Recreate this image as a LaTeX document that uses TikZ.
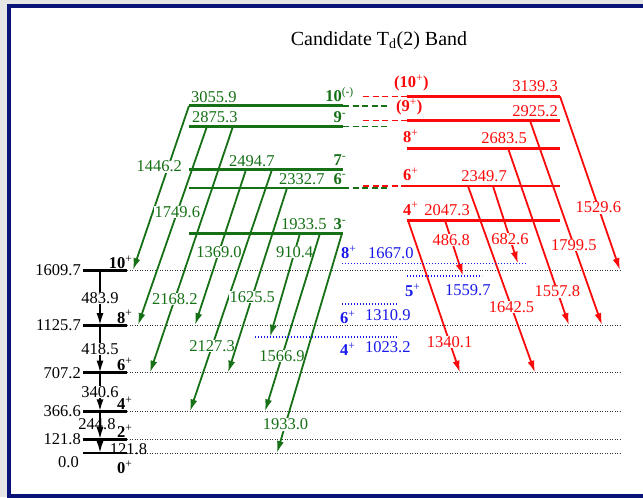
\documentclass[tikz,border=0pt]{standalone}
\usepackage{fontspec}
\setmainfont{Liberation Serif}
\usetikzlibrary{arrows.meta}

\definecolor{bandgreen}{RGB}{22,112,22}
\definecolor{bandred}{RGB}{250,10,10}
\definecolor{bandblue}{RGB}{25,25,235}
\definecolor{framenavy}{RGB}{10,20,120}
\definecolor{pagegray}{RGB}{229,229,229}

\begin{document}
\begin{tikzpicture}[x=1pt, y=0.1136pt, font=\fontsize{16.5}{18}\selectfont,
    level/.style={line width=2.8pt},
    trans/.style={line width=1.8pt, -{Latex[length=12pt,width=7pt]}},
    gamma/.style={fill=white, inner sep=0.5pt},
    spin/.style={inner sep=1pt, font=\fontsize{16.5}{18}\selectfont\bfseries},
    guide/.style={line width=1pt, black!80, dash pattern=on 1pt off 1.5pt},
    bluedots/.style={line width=1.6pt, bandblue, dash pattern=on 1.4pt off 1.6pt},
    link/.style={line width=1.6pt, dash pattern=on 6pt off 3.5pt}]

    % Page and frame
    \useasboundingbox (0,-387.3) rectangle (643,3987.7);
    \fill[pagegray] (0,-387.3) rectangle (643,3987.7);
    \draw[framenavy, line width=4pt, fill=white] (9,-378.5) rectangle (690,3934.9);

    % Title
    \node[font=\fontsize{20}{24}\selectfont] (title) at (379,3627) {Candidate T\textsubscript{d}(2) Band};

    % Ground band
    \foreach \E/\J in {121.8/2, 366.6/4, 707.2/6, 1125.7/8, 1609.7/10} {
        \draw[level] (83,\E) -- (127,\E);
        \draw[guide] (127,\E) -- (622,\E);
        \node[left, inner sep=1pt] (gsE\J) at (82,\E) {\E};
        \node[spin, above left, inner sep=0.5pt, yshift=1pt] (gsJ\J) at (126,\E) {\J\rlap{\textsuperscript{\mdseries+}}};
        \coordinate (gs\J) at (100,\E);
    }
    \draw[level] (83,0) -- (127,0);
    \draw[guide] (127,0) -- (622,0);
    \node[anchor=east, inner sep=1pt] (gsE0) at (80,-79) {0.0};
    \node[spin, anchor=east, inner sep=0.5pt] (gsJ0) at (126,-125) {0\rlap{\textsuperscript{\mdseries+}}};
    \coordinate (gs0) at (100,0);

    \draw[trans] (gs10) -- node[gamma] (g483) {483.9} (gs8);
    \draw[trans] (gs8) -- node[gamma] (g418) {418.5} (gs6);
    \draw[trans] (gs6) -- node[gamma] (g340) {340.6} (gs4);
    \node[inner sep=0pt] (g244) at (97,255) {244.8};
    \draw[trans] (gs4) -- (gs2);
    \draw[trans] (gs2) -- node[anchor=west, inner sep=0pt, xshift=9pt, yshift=-3pt] (g121) {121.8} (gs0);

    % Candidate band
    \foreach \sx/\sE/\ex/\eE/\g/\p/\dx [count=\i] in {
        189/3055.9/133/1609.7/1446.2/0.37/-9,
        207/2875.3/138/1125.7/1749.6/0.43/0,
        233/2875.3/150/707.2/2168.2/0.70/0,
        246/2494.7/195/1125.7/1369.0/0.53/0,
        272/2494.7/190/366.6/2127.3/0.73/0,
        287/2332.7/228/707.2/1625.5/0.59/0,
        300/1933.5/270/1023.2/910.4/0.18/0,
        320/1933.5/265/366.6/1566.9/0.69/0,
        342/1933.5/277/0.0/1933.0/0.87/0} {
        \coordinate (cs\i) at (\sx,\sE);
        \coordinate (ce\i) at (\ex,\eE);
        \draw[trans, bandgreen] (cs\i) -- node[gamma, pos=\p, xshift=\dx pt, text=bandgreen] (cg\i) {\g} (ce\i);
    }
    \foreach \E/\J/\P/\lx in {3055.9/10/(-)/190, 2875.3/9/-/191, 2494.7/7/-/228, 2332.7/6/-/278, 1933.5/3/-/280} {
        \draw[level, bandgreen] (189,\E) -- (343,\E);
        \node[above right, inner sep=1pt, yshift=2pt, text=bandgreen] (cE\J) at (\lx,\E) {\E};
        \node[spin, above left, yshift=2.5pt, text=bandgreen] (cJ\J) at (343,\E) {\J\rlap{\textsuperscript{\mdseries\P}}};
        \coordinate (c\J) at (343,\E);
        \coordinate (cm\J) at (387,\E);
    }

    % Partner band
    \foreach \sx/\sE/\ex/\eE/\g/\p [count=\i] in {
        560/3139.3/620/1609.7/1529.6/0.64,
        530/2925.2/602/1125.7/1799.5/0.61,
        508/2683.5/569/1125.7/1557.8/0.81,
        468/2349.7/535/707.2/1642.5/0.65,
        493/2349.7/518/1667.0/682.6/0.68,
        445/2047.3/463/1559.7/486.8/0.35,
        408/2047.3/460/707.2/1340.1/0.80} {
        \coordinate (rs\i) at (\sx,\sE);
        \coordinate (re\i) at (\ex,\eE);
        \draw[trans, bandred] (rs\i) -- node[gamma, pos=\p, text=bandred] (rg\i) {\g} (re\i);
    }
    \foreach \E/\J/\jx/\ex [count=\i] in {
        3139.3/{(10\textsuperscript{\mdseries+})}/393/559,
        2925.2/{(9\textsuperscript{\mdseries+})}/395/559,
        2683.5/{8\textsuperscript{\mdseries+}}/402/528,
        2349.7/{6\textsuperscript{\mdseries+}}/402/508,
        2047.3/{4\textsuperscript{\mdseries+}}/402/471} {
        \draw[level, bandred] (407,\E) -- (560,\E);
        \node[spin, anchor=south west, yshift=4pt, text=bandred] (rJ\i) at (\jx,\E) {\J};
        \node[anchor=south east, inner sep=1pt, yshift=3pt, text=bandred] (rE\i) at (\ex,\E) {\E};
        \coordinate (r\i) at (407,\E);
        \coordinate (rm\i) at (363,\E);
    }

    % Links between the bands
    \draw[link, bandgreen] (c10) -- (cm10);
    \draw[link, bandgreen] (c9) -- (cm9);
    \draw[link, bandgreen] (c6) -- (cm6);
    \draw[link, bandred] (rm1) -- (r1);
    \draw[link, bandred] (rm2) -- (r2);
    \draw[link, bandred] (rm4) -- (r4);

    % Side levels
    \foreach \E/\xa/\xb in {1667.0/342/527, 1559.7/407/482, 1310.9/342/397, 1023.2/255/397} {
        \draw[bluedots] (\xa,\E) -- (\xb,\E);
    }
    \node[spin, anchor=base west, inner sep=0pt, text=bandblue] (bJ8) at (341,1712) {8\textsuperscript{\mdseries+}};
    \node[anchor=base west, inner sep=0pt, text=bandblue] (bE8) at (368,1712) {1667.0};
    \node[spin, anchor=base west, inner sep=0pt, text=bandblue] (bJ5) at (405,1378) {5\textsuperscript{\mdseries+}};
    \node[anchor=base west, inner sep=0pt, text=bandblue] (bE5) at (445,1386) {1559.7};
    \node[spin, anchor=base west, inner sep=0pt, text=bandblue] (bJ6) at (340,1140) {6\textsuperscript{\mdseries+}};
    \node[anchor=base west, inner sep=0pt, text=bandblue] (bE6) at (365,1166) {1310.9};
    \node[spin, anchor=base west, inner sep=0pt, text=bandblue] (bJ4) at (340,858) {4\textsuperscript{\mdseries+}};
    \node[anchor=base west, inner sep=0pt, text=bandblue] (bE4) at (365,885) {1023.2};
\end{tikzpicture}
\end{document}
